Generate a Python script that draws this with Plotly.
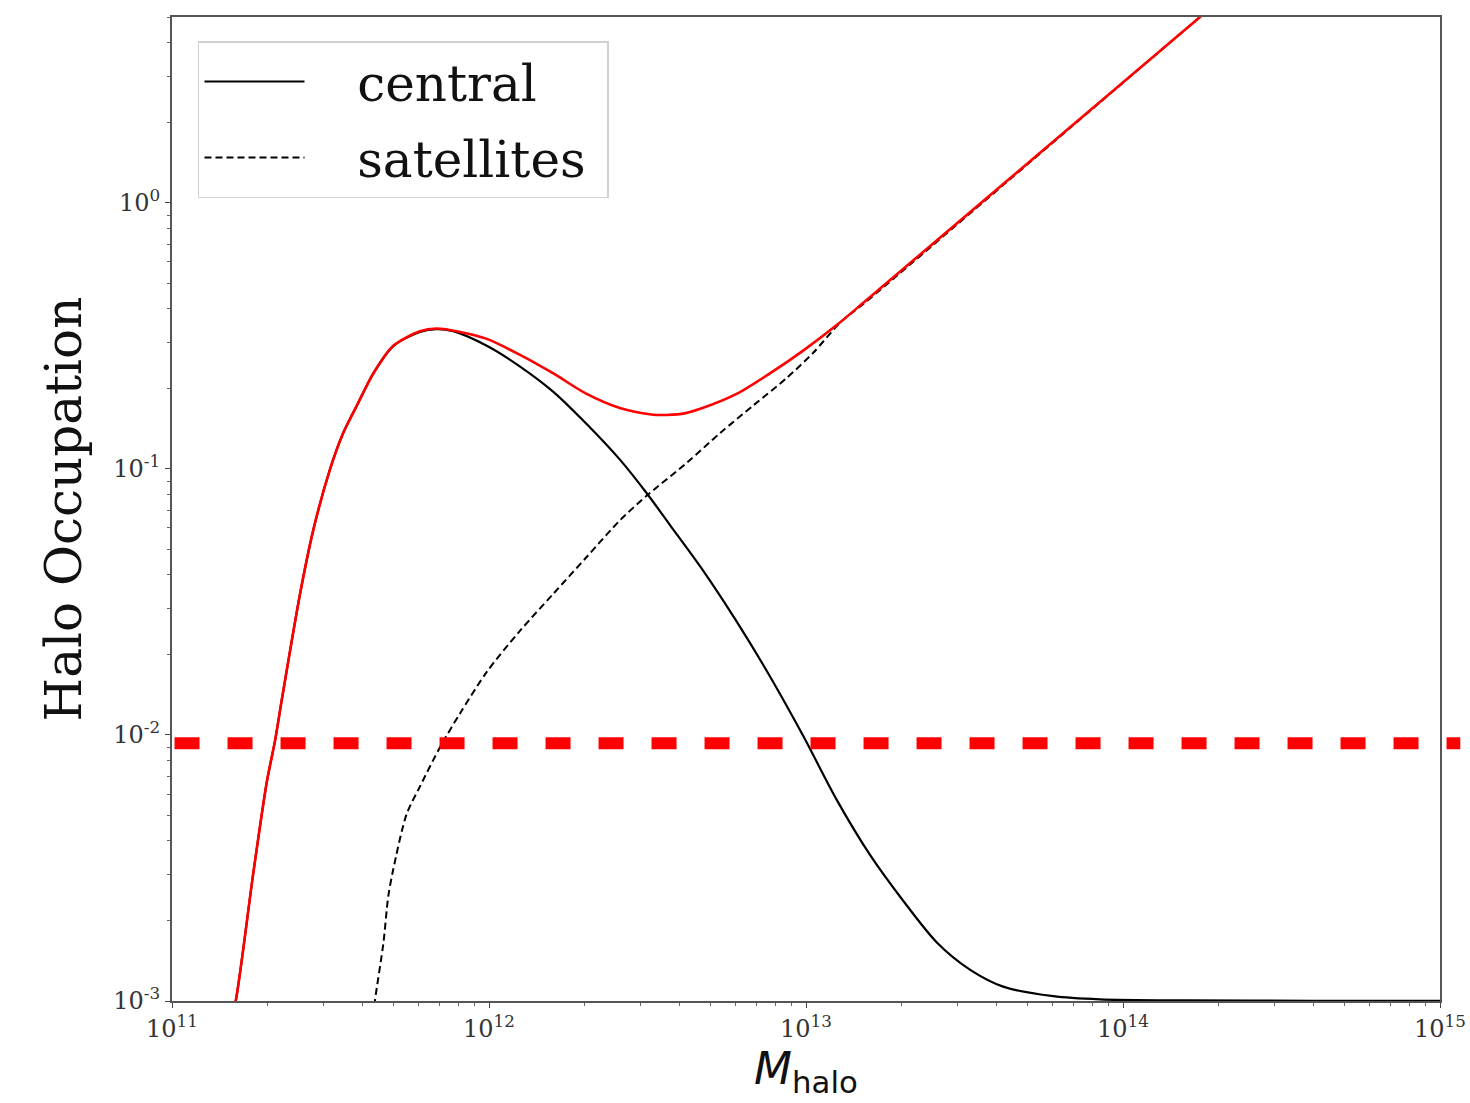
import plotly.graph_objects as go

# log10(M_halo) and log10(N)
central_logM = [11.18, 11.201, 11.256, 11.299, 11.325, 11.346, 11.404, 11.446, 11.498, 11.540, 11.583,
                11.635, 11.698, 11.782, 11.835, 11.887, 11.993, 12.098, 12.203, 12.308, 12.413,
                12.500, 12.571, 12.676, 12.781, 12.886, 12.991, 13.097, 13.202, 13.307, 13.412,
                13.517, 13.622, 13.780, 13.927, 14.2, 14.6, 15.0]
central_logN = [-3.1, -3.0, -2.523, -2.177, -2.022, -1.87, -1.469, -1.228, -1.003, -0.865, -0.762,
                -0.641, -0.538, -0.485, -0.474, -0.482, -0.537, -0.615, -0.710, -0.831, -0.965,
                -1.095, -1.211, -1.383, -1.573, -1.779, -2.003, -2.244, -2.451, -2.624, -2.779,
                -2.882, -2.946, -2.982, -2.994, -2.998, -2.999, -2.999]

sat_logM = [11.63, 11.640, 11.667, 11.682, 11.698, 11.740, 11.782, 11.845, 11.909, 11.993, 12.098,
            12.203, 12.308, 12.413, 12.500, 12.624, 12.729, 12.834, 12.939, 13.023, 13.107,
            13.191, 14.243, 15.0]
sat_logN = [-3.1, -3.0, -2.781, -2.609, -2.505, -2.298, -2.194, -2.047, -1.918, -1.763, -1.608,
            -1.469, -1.331, -1.193, -1.098, -0.977, -0.865, -0.761, -0.658, -0.563, -0.451,
            -0.37, 0.699, 1.46]

total_logM = [11.18, 11.201, 11.256, 11.299, 11.325, 11.346, 11.404, 11.446, 11.498, 11.540, 11.583,
              11.635, 11.698, 11.782, 11.835, 11.909, 11.993, 12.098, 12.203, 12.308, 12.413,
              12.518, 12.560, 12.620, 12.676, 12.781, 12.886, 12.991, 13.097, 13.191, 14.243, 15.0]
total_logN = [-3.1, -3.0, -2.523, -2.177, -2.022, -1.87, -1.469, -1.228, -1.003, -0.865, -0.762,
              -0.641, -0.537, -0.482, -0.472, -0.485, -0.511, -0.571, -0.641, -0.718, -0.771,
              -0.796, -0.797, -0.790, -0.770, -0.718, -0.641, -0.555, -0.459, -0.365, 0.699, 1.46]

threshold = 0.0093

x_decades = [11, 12, 13, 14, 15]
y_decades = [-3, -2, -1, 0]
x_range_log = [11, 15]
y_range_log = [-3, 0.699]


def to_lin(v):
    return [10 ** a for a in v]


def sup_labels(decs):
    return ["10<sup>%d</sup>" % d for d in decs]


def minor_vals(lo, hi):
    return [m * 10 ** d for d in range(lo, hi) for m in range(2, 10)]


fig = go.Figure()
fig.add_trace(go.Scatter(x=to_lin(central_logM), y=to_lin(central_logN), mode="lines",
                         name="\u00a0\u00a0\u00a0central", legendgroup="c",
                         line=dict(color="black", width=2.2, shape="spline", smoothing=0.8)))
fig.add_trace(go.Scatter(x=to_lin(sat_logM), y=to_lin(sat_logN), mode="lines",
                         name="\u00a0\u00a0\u00a0satellites\u00a0", legendgroup="s",
                         line=dict(color="black", width=2, dash="7px,4px", shape="spline", smoothing=0.8)))
fig.add_trace(go.Scatter(x=to_lin(total_logM), y=to_lin(total_logN), mode="lines",
                         name="total", showlegend=False,
                         line=dict(color="red", width=2.6, shape="spline", smoothing=0.8)))

fig.add_shape(type="line", xref="paper", yref="y", x0=0.002, x1=1.016, y0=threshold, y1=threshold,
              line=dict(color="red", width=12, dash="25px,28px"))

axis_common = dict(type="log", showline=True, mirror=True, linecolor="#555", linewidth=2,
                   showgrid=False, zeroline=False, ticks="outside", ticklen=5, tickcolor="#444",
                   tickmode="array", automargin=False,
                   tickfont=dict(family="DejaVu Serif", size=24, color="#333"))

fig.update_layout(
    width=1470, height=1103,
    margin=dict(l=172, r=30, t=17, b=102),
    paper_bgcolor="white", plot_bgcolor="white",
    xaxis=dict(range=x_range_log,
               tickvals=to_lin(x_decades), ticktext=sup_labels(x_decades),
               minor=dict(tickmode="array", tickvals=minor_vals(11, 15), ticks="outside",
                          ticklen=3, tickcolor="#666", showgrid=False),
               title=dict(text="<i>M</i><sub>halo</sub>",
                          font=dict(family="DejaVu Sans", size=44, color="#111"), standoff=9),
               **axis_common),
    yaxis=dict(range=y_range_log,
               tickvals=to_lin(y_decades), ticktext=sup_labels(y_decades),
               minor=dict(tickmode="array", tickvals=minor_vals(-3, 1), ticks="outside",
                          ticklen=3, tickcolor="#666", showgrid=False),
               title=dict(text="Halo Occupation",
                          font=dict(family="DejaVu Serif", size=50, color="#111"), standoff=16),
               **axis_common),
    legend=dict(x=0.0205, y=0.9756, xanchor="left", yanchor="top",
                bgcolor="white", bordercolor="#d0d0d0", borderwidth=1.5,
                font=dict(family="DejaVu Serif", size=50, color="#111"),
                itemwidth=100, tracegroupgap=8, traceorder="grouped"),
    showlegend=True,
)

fig.write_html("out.html")
